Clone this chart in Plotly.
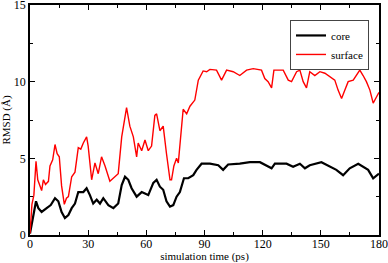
import plotly.graph_objects as go

# simulation time (ps) and RMSD (Å)
t_surface = [0, 1.0, 2.0, 3.1, 4.0, 5.0, 6.0, 6.9, 8.0, 9.5, 10.3, 11.7, 12.9, 14.0, 15.1, 16.3, 17.7, 18.8,
             19.8, 21.5, 23.2, 24.9, 26.2, 27.5, 29.2, 30.0, 31.8, 33.5, 35.2, 36.9, 38.7, 41.2, 43.8,
             45.5, 47.3, 49.0, 49.8, 51.5, 53.3, 55.0, 55.8, 57.6, 59.3, 61.0, 62.7, 64.4, 65.3, 67.0,
             68.7, 70.4, 72.2, 73.0, 74.2, 75.6, 76.5, 79.0, 80.8, 82.5, 85.0, 86.8, 89.3, 91.1, 92.8,
             96.2, 98.8, 101.4, 104.8, 108.2, 111.7, 115.1, 119.4, 121.1, 122.8, 124.6, 125.8, 130.6,
             133.2, 134.9, 137.5, 139.2, 140.9, 142.6, 144.3, 146.9, 149.5, 152.1, 154.6, 157.2, 158.9,
             160.7, 162.4, 164.1, 166.7, 168.4, 170.1, 171.8, 173.5, 175.3, 177.0, 178.7, 180.0]
surface = [0.1, 2.0, 2.6, 4.8, 3.6, 3.3, 2.9, 3.6, 3.3, 3.5, 4.5, 4.9, 5.9, 5.3, 5.1, 3.2, 2.0, 2.4,
           2.5, 3.8, 4.1, 5.7, 5.6, 6.0, 6.4, 5.8, 3.6, 4.7, 4.0, 5.1, 4.5, 3.5, 3.8,
           4.0, 6.4, 7.8, 8.3, 7.1, 6.4, 5.1, 6.0, 5.5, 6.2, 5.5, 5.8, 7.8, 7.9, 6.8,
           7.1, 5.3, 3.6, 3.6, 4.5, 5.0, 4.7, 8.2, 7.9, 8.4, 8.8, 10.1, 10.7, 10.65, 10.8,
           10.75, 10.1, 10.75, 10.65, 10.4, 10.75, 10.85, 10.75, 10.2, 10.0, 9.6, 10.75, 10.75,
           10.1, 10.0, 10.65, 10.75, 10.0, 9.6, 10.65, 10.4, 10.65, 10.55, 10.3, 10.1, 9.45,
           8.9, 9.45, 10.0, 10.1, 10.4, 10.75, 10.4, 10.0, 9.45, 8.6, 9.0, 9.3]

t_core = [0, 1.7, 3.1, 4.3, 6.0, 8.6, 10.7, 12.9, 14.6, 16.3, 18.0, 19.8, 21.5, 23.2, 24.9, 27.5, 29.2,
          30.9, 32.6, 34.4, 36.1, 37.8, 40.4, 43.0, 45.5, 47.3, 49.0, 50.7, 52.4, 55.0, 57.6, 59.3,
          61.0, 63.6, 65.3, 67.0, 68.7, 70.4, 72.2, 73.9, 75.6, 77.3, 79.4, 81.6, 84.2, 85.9, 88.5,
          92.8, 97.1, 99.6, 102.2, 108.2, 113.4, 118.6, 122.0, 124.6, 126.3, 132.3, 135.7, 139.2,
          141.8, 144.3, 150.3, 154.6, 158.0, 161.5, 164.9, 169.3, 171.8, 174.4, 177.0, 180.0]
core = [0.1, 1.2, 2.2, 1.75, 1.5, 1.75, 1.95, 2.4, 2.2, 1.5, 1.1, 1.3, 1.75, 2.05, 2.8, 2.8, 3.05,
        2.6, 2.05, 2.3, 2.05, 2.4, 1.95, 1.75, 2.05, 3.25, 3.8, 3.6, 3.05, 2.5, 2.8, 2.7,
        2.6, 3.4, 3.6, 3.15, 2.95, 2.2, 1.85, 1.95, 2.5, 2.8, 3.7, 3.7, 3.9, 4.25, 4.65,
        4.65, 4.55, 4.25, 4.6, 4.65, 4.75, 4.75, 4.55, 4.35, 4.65, 4.65, 4.45, 4.65,
        4.35, 4.55, 4.75, 4.45, 4.25, 3.9, 4.35, 4.65, 4.45, 4.25, 3.7, 4.0]

x_ticks = [0, 30, 60, 90, 120, 150, 180]
y_ticks = [0, 5, 10, 15]

fig = go.Figure()
fig.add_trace(go.Scatter(x=t_core, y=core, mode="lines", name="core",
                         line=dict(color="black", width=2.2)))
fig.add_trace(go.Scatter(x=t_surface, y=surface, mode="lines", name="surface",
                         line=dict(color="red", width=1.4)))

font = dict(family="Liberation Serif, Times New Roman, serif", size=12, color="black")
axis_common = dict(showgrid=False, zeroline=False, showline=True, linecolor="black", linewidth=1.5,
                   mirror="ticks", ticks="inside", ticklen=5, tickcolor="black", tickwidth=1,
                   tickfont=font, automargin=False, ticklabeloverflow="allow")

fig.update_layout(
    width=388, height=263,
    margin=dict(l=30, r=9, t=5, b=28),
    paper_bgcolor="white", plot_bgcolor="white",
    font=font,
    showlegend=True,
    legend=dict(x=0.745, y=0.935, xanchor="left", yanchor="top",
                bgcolor="white", bordercolor="#444", borderwidth=1,
                font=dict(family="Liberation Serif, serif", size=11, color="black"),
                tracegroupgap=0, itemwidth=30),
    xaxis=dict(range=[0, 180], tickvals=x_ticks, ticktext=[str(v) for v in x_ticks],
               minor=dict(dtick=15, ticks="inside", ticklen=3, tickcolor="black"),
               title=dict(text="simulation time (ps)", font=dict(size=11), standoff=1),
               ticklabelstandoff=-3,
               **axis_common),
    yaxis=dict(range=[0, 15], tickvals=y_ticks, ticktext=[str(v) for v in y_ticks],
               minor=dict(dtick=2.5, ticks="inside", ticklen=3, tickcolor="black"),
               title=dict(text="RMSD (Å)", font=dict(size=11), standoff=2),
               **axis_common),
)

fig.write_html("out.html", post_script="document.body.style.margin='0';",
               config={"displayModeBar": False})
